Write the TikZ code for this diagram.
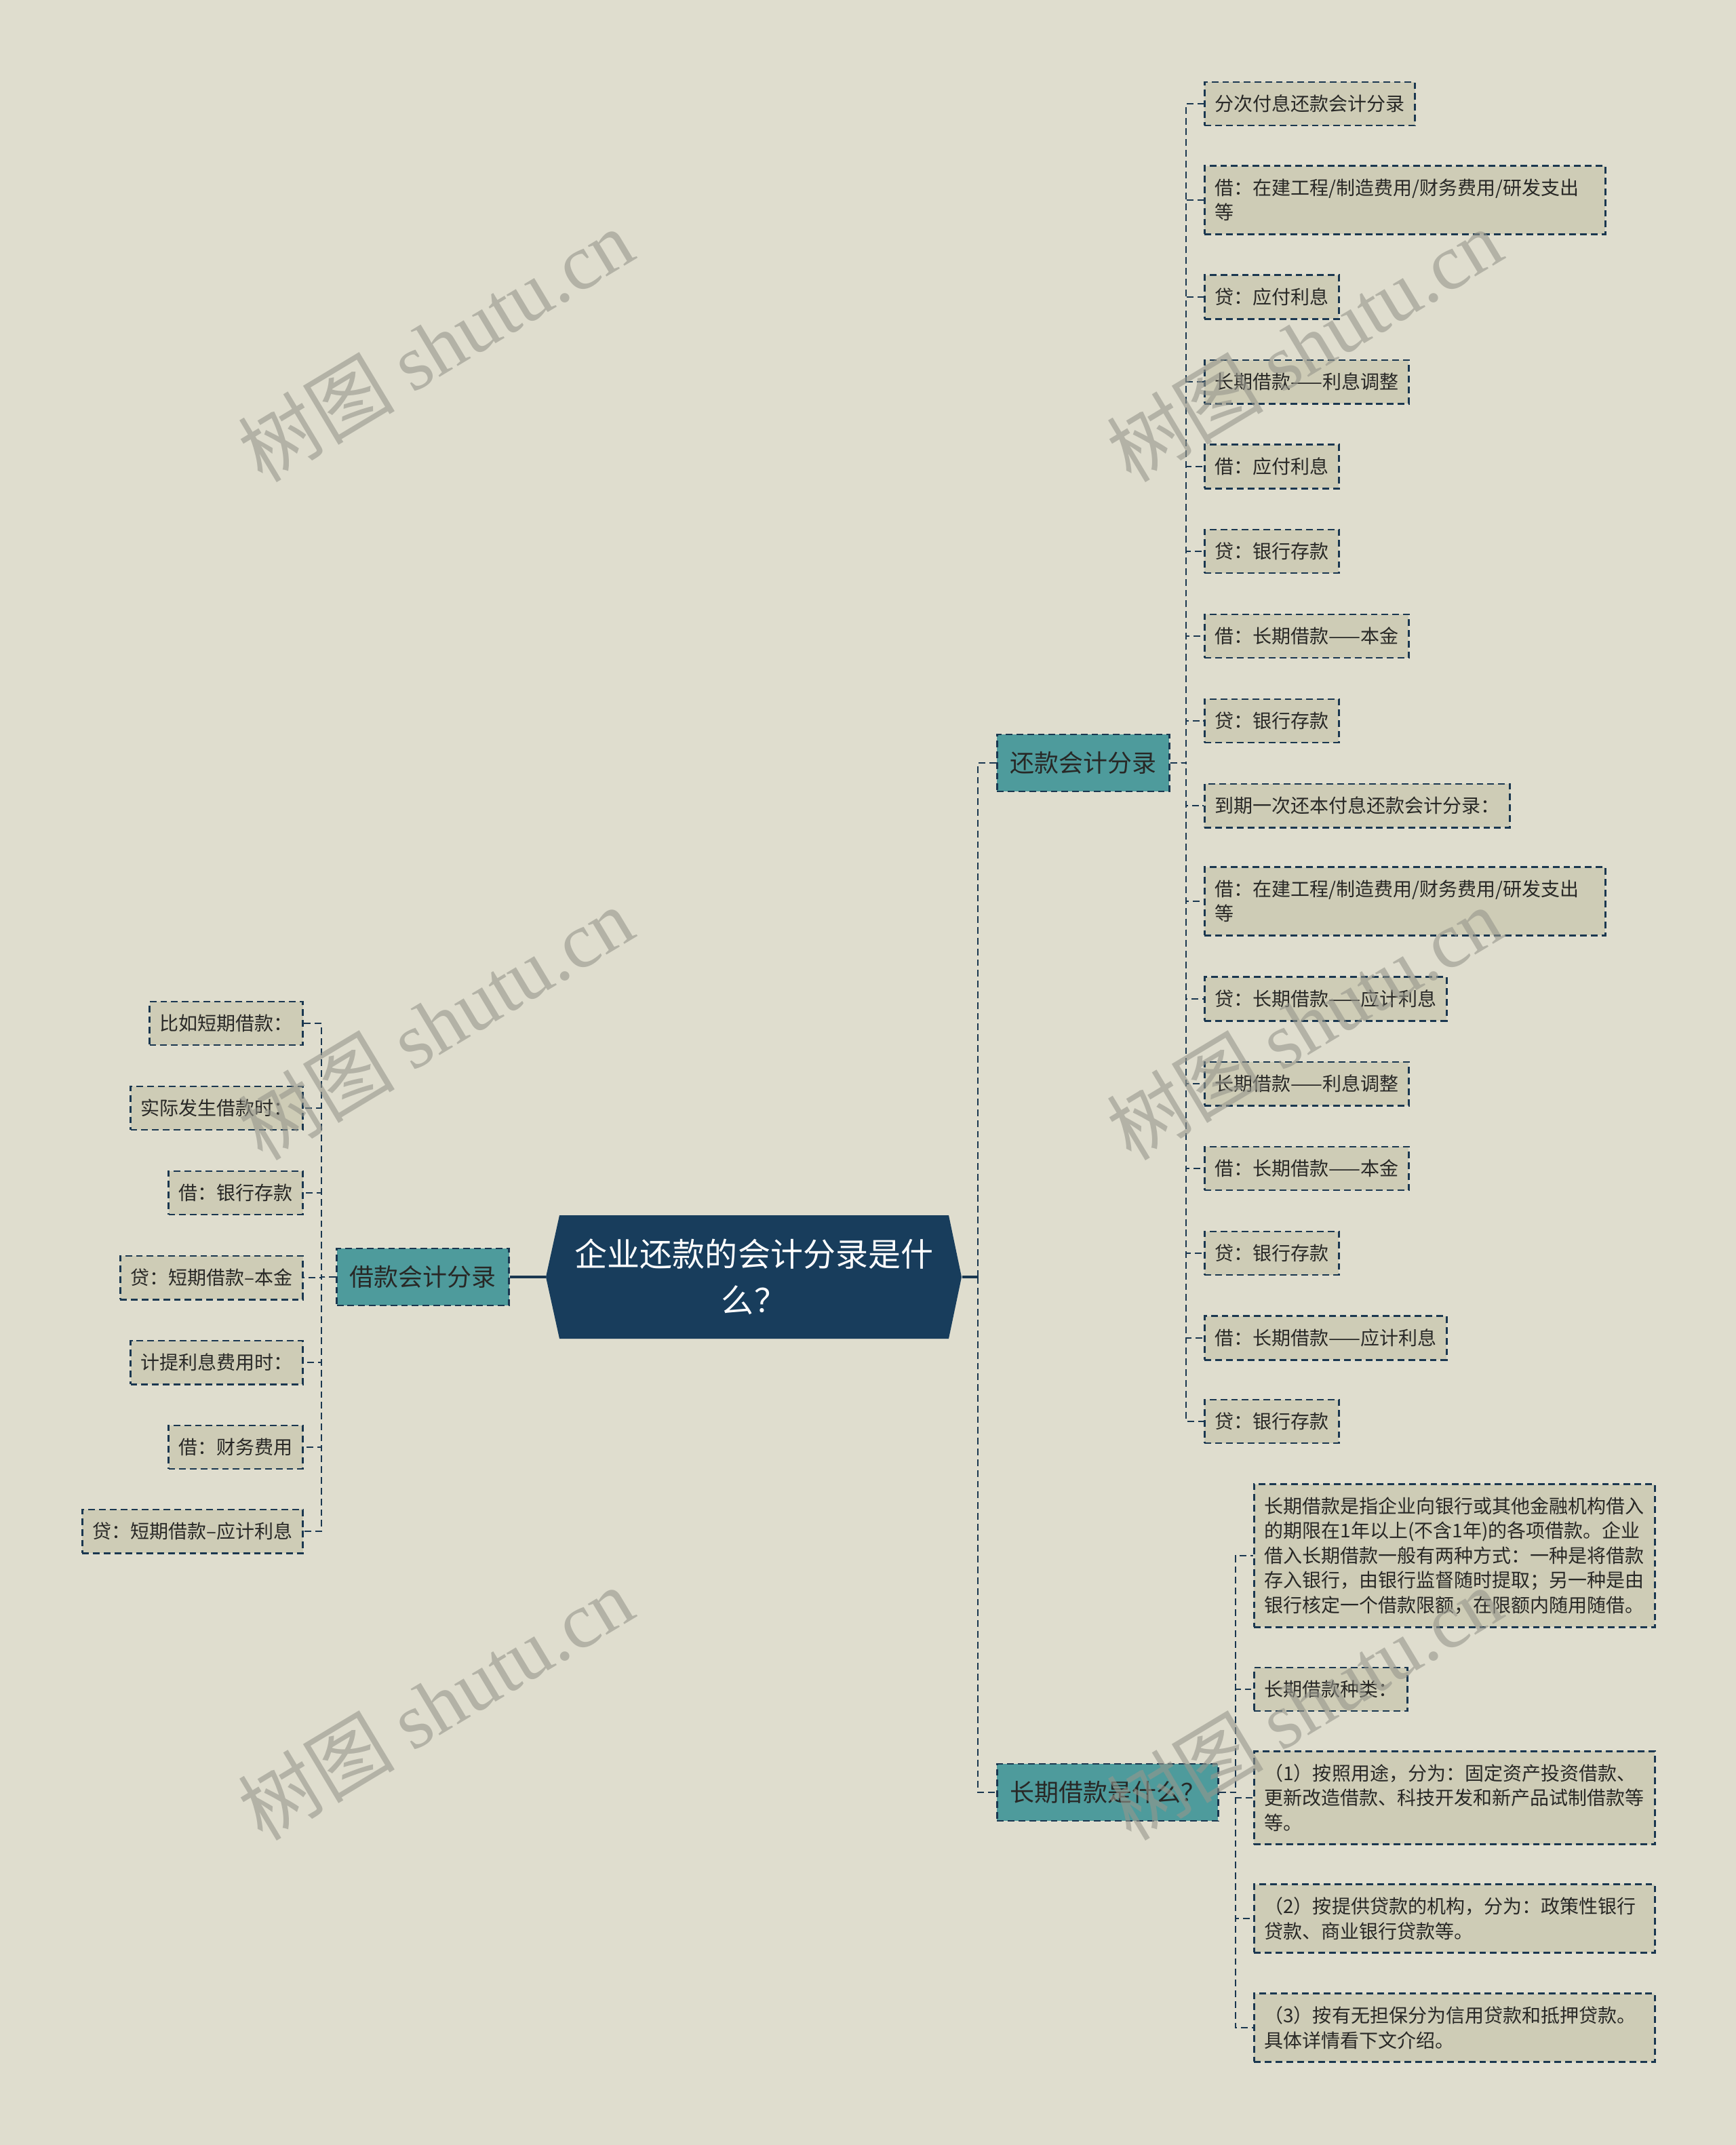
\documentclass[tikz,border=0pt]{standalone}
\usepackage{fontspec}
\setmainfont{Noto Sans CJK SC}
\newfontfamily\wmfont{Liberation Serif}
\usetikzlibrary{positioning}
\usetikzlibrary{calc}
\definecolor{bgc}{RGB}{223,221,206}
\definecolor{leafc}{RGB}{206,204,182}
\definecolor{linec}{RGB}{26,55,80}
\definecolor{tealc}{RGB}{78,155,156}
\definecolor{rootc}{RGB}{24,61,92}
\definecolor{textc}{RGB}{40,40,38}
\definecolor{wmc}{RGB}{150,150,140}

\begin{document}
\begin{tikzpicture}[
                link/.style={draw=linec, line width=0.8pt, dash pattern=on 2.8pt off 1.7pt},
                trunk/.style={draw=linec, line width=1.1pt},
                leaf/.style={rectangle, draw=linec, line width=0.8pt, dash pattern=on 2.8pt off 1.7pt,
                        fill=leafc, text=textc, align=left, inner xsep=0.15cm, inner ysep=0.19cm,
                        minimum height=0.64cm, font=\fontsize{7.97pt}{10.39pt}\selectfont},
                wideleaf/.style={leaf, text width=5.61cm},
                branch/.style={rectangle, draw=linec, line width=0.8pt, dash pattern=on 2.8pt off 1.7pt,
                        fill=tealc, text=textc, inner xsep=0.19cm, minimum height=0.84cm,
                        font=\fontsize{10.24pt}{12pt}\selectfont},
                root/.style={rectangle, minimum width=6.13cm, minimum height=1.82cm, text=white,
                        align=center, font=\fontsize{13.66pt}{19.4pt}\selectfont},
                wmark/.style={text=wmc, opacity=0.6, rotate=31, font=\fontsize{33pt}{33pt}\selectfont}]
    \useasboundingbox (0,0) rectangle (25.6,-31.63);
    \fill[bgc] (0,0) rectangle (25.6,-31.63);

    % centre
    \fill[rootc] (8.25,-17.92) -- (13.99,-17.92) -- (14.18,-18.83) -- (13.99,-19.74)
        -- (8.25,-19.74) -- (8.05,-18.83) -- cycle;
    \node[root] (v0) at (11.12,-18.83) {企业还款的会计分录是什\\么？};

    \node[branch, anchor=east] (v1) at (7.52,-18.83) {借款会计分录};
    \node[branch, anchor=west] (v2) at (14.69,-11.25) {还款会计分录};
    \node[branch, anchor=west] (v3) at (14.69,-26.43) {长期借款是什么？};

    % left leaves
    \node[leaf, anchor=east] (v11) at (4.48,-15.09) {比如短期借款：};
    \node[leaf, anchor=east] (v12) at (4.48,-16.34) {实际发生借款时：};
    \node[leaf, anchor=east] (v13) at (4.48,-17.59) {借：银行存款};
    \node[leaf, anchor=east] (v14) at (4.48,-18.84) {贷：短期借款–本金};
    \node[leaf, anchor=east] (v15) at (4.48,-20.09) {计提利息费用时：};
    \node[leaf, anchor=east] (v16) at (4.48,-21.34) {借：财务费用};
    \node[leaf, anchor=east] (v17) at (4.48,-22.58) {贷：短期借款–应计利息};

    % right leaves
    \node[leaf, anchor=west] (v21) at (17.75,-1.53) {分次付息还款会计分录};
    \node[wideleaf, anchor=west] (v22) at (17.75,-2.95) {借：在建工程/制造费用/财务费用/研发支出\\等};
    \node[leaf, anchor=west] (v23) at (17.75,-4.38) {贷：应付利息};
    \node[leaf, anchor=west] (v24) at (17.75,-5.63) {长期借款——利息调整};
    \node[leaf, anchor=west] (v25) at (17.75,-6.88) {借：应付利息};
    \node[leaf, anchor=west] (v26) at (17.75,-8.13) {贷：银行存款};
    \node[leaf, anchor=west] (v27) at (17.75,-9.38) {借：长期借款——本金};
    \node[leaf, anchor=west] (v28) at (17.75,-10.63) {贷：银行存款};
    \node[leaf, anchor=west] (v29) at (17.75,-11.88) {到期一次还本付息还款会计分录：};
    \node[wideleaf, anchor=west] (v210) at (17.75,-13.29) {借：在建工程/制造费用/财务费用/研发支出\\等};
    \node[leaf, anchor=west] (v211) at (17.75,-14.73) {贷：长期借款——应计利息};
    \node[leaf, anchor=west] (v212) at (17.75,-15.98) {长期借款——利息调整};
    \node[leaf, anchor=west] (v213) at (17.75,-17.23) {借：长期借款——本金};
    \node[leaf, anchor=west] (v214) at (17.75,-18.48) {贷：银行存款};
    \node[leaf, anchor=west] (v215) at (17.75,-19.73) {借：长期借款——应计利息};
    \node[leaf, anchor=west] (v216) at (17.75,-20.96) {贷：银行存款};

    \node[wideleaf, anchor=west] (v31) at (18.48,-22.94) {长期借款是指企业向银行或其他金融机构借入\\的期限在1年以上(不含1年)的各项借款。企业\\借入长期借款一般有两种方式：一种是将借款\\存入银行，由银行监督随时提取；另一种是由\\银行核定一个借款限额，在限额内随用随借。};
    \node[leaf, anchor=west] (v32) at (18.48,-24.91) {长期借款种类：};
    \node[wideleaf, anchor=west] (v33) at (18.48,-26.51) {（1）按照用途，分为：固定资产投资借款、\\更新改造借款、科技开发和新产品试制借款等\\等。};
    \node[wideleaf, anchor=west] (v34) at (18.48,-28.29) {（2）按提供贷款的机构，分为：政策性银行\\贷款、商业银行贷款等。};
    \node[wideleaf, anchor=west] (v35) at (18.48,-29.90) {（3）按有无担保分为信用贷款和抵押贷款。\\具体详情看下文介绍。};

    % connectors
    \coordinate (t0) at (14.42,0);
    \coordinate (t1) at (4.74,0);
    \coordinate (t2) at (17.49,0);
    \coordinate (t3) at (18.22,0);
    \draw[trunk] (v0.west) -- (v1.east);
    \draw[trunk] (v0.east) -- (v0.east -| t0);
    \draw[link] (v0.east -| t0) |- (v2.west);
    \draw[link] (v0.east -| t0) |- (v3.west);
    \foreach \n in {v11,v12,v13,v14,v15,v16,v17}
        \draw[link] (v1.west) -- (v1.west -| t1) |- (\n.east);
    \foreach \n in {v21,v22,v23,v24,v25,v26,v27,v28,v29,v210,v211,v212,v213,v214,v215,v216}
        \draw[link] (v2.east) -- (v2.east -| t2) |- (\n.west);
    \foreach \n in {v31,v32,v33,v34,v35}
        \draw[link] (v3.east) -- (v3.east -| t3) |- (\n.west);

    % watermark
    \node[wmark] (w1) at (6.42,-5.09) {树图 {\wmfont shutu.cn}};
    \node[wmark] (w2) at (6.42,-15.09) {树图 {\wmfont shutu.cn}};
    \node[wmark] (w3) at (6.42,-25.12) {树图 {\wmfont shutu.cn}};
    \node[wmark] (w4) at (19.23,-5.09) {树图 {\wmfont shutu.cn}};
    \node[wmark] (w5) at (19.23,-15.09) {树图 {\wmfont shutu.cn}};
    \node[wmark] (w6) at (19.23,-25.12) {树图 {\wmfont shutu.cn}};
\end{tikzpicture}
\end{document}
